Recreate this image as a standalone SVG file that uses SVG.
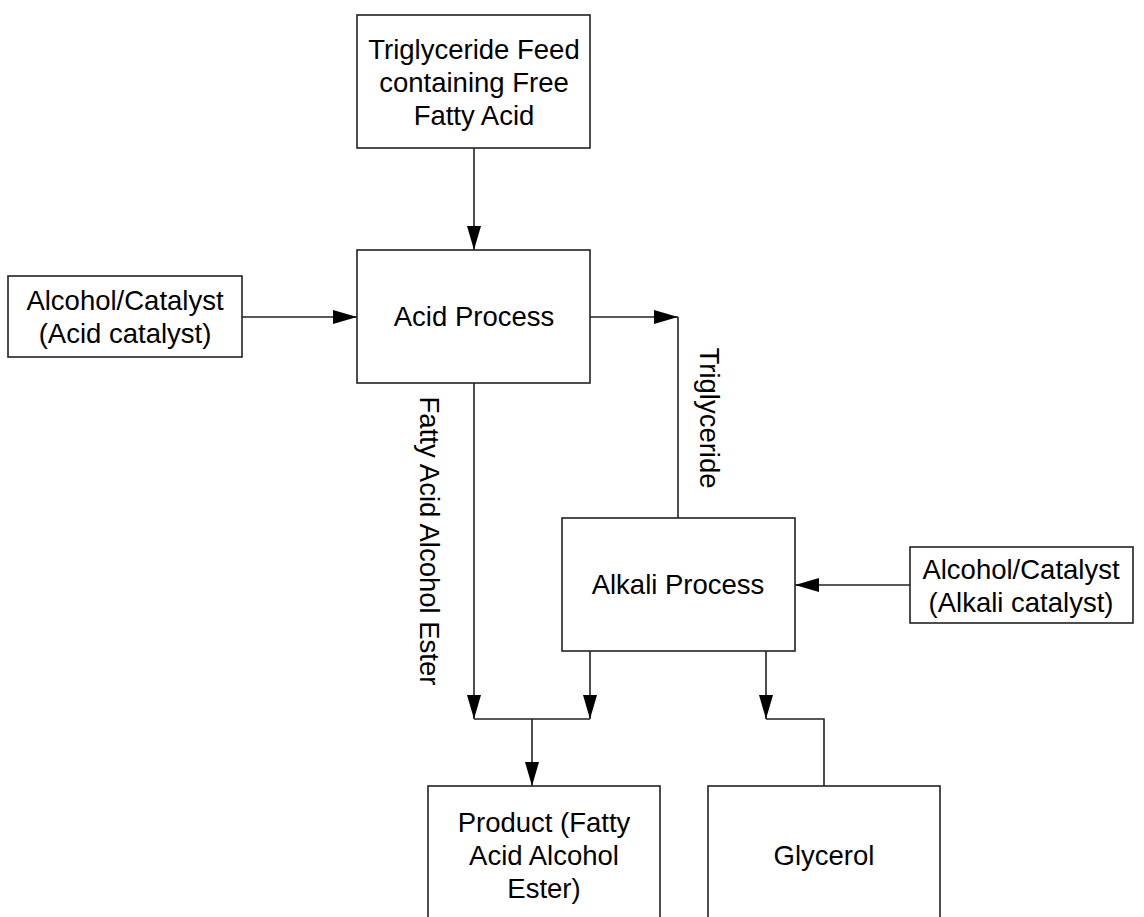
<svg xmlns="http://www.w3.org/2000/svg" width="1144" height="917" viewBox="0 0 1144 917">
<style>
.box{fill:#fff;stroke:#222;stroke-width:1.6}
.ln{fill:none;stroke:#222;stroke-width:1.6}
text{font-family:"Liberation Sans",Arial,sans-serif;font-size:27.5px;fill:#000;text-anchor:middle}
</style>
<defs>
<marker id="arr" viewBox="0 0 24 14" refX="24" refY="7" markerWidth="24" markerHeight="14" markerUnits="userSpaceOnUse" orient="auto">
<path d="M0,0 L24,7 L0,14 Z" fill="#000"/>
</marker>
</defs>
<rect width="1144" height="917" fill="#fff"/>
<g id="connectors">
<path class="ln" d="M474,148 V250" marker-end="url(#arr)"/>
<path class="ln" d="M242,317 H357" marker-end="url(#arr)"/>
<path class="ln" d="M590,317 H678" marker-end="url(#arr)"/>
<path class="ln" d="M678,317 V518"/>
<path class="ln" d="M910,585 H795" marker-end="url(#arr)"/>
<path class="ln" d="M474,383 V719" marker-end="url(#arr)"/>
<path class="ln" d="M590,651 V719" marker-end="url(#arr)"/>
<path class="ln" d="M474,719 H590"/>
<path class="ln" d="M532,719 V786" marker-end="url(#arr)"/>
<path class="ln" d="M766,651 V719" marker-end="url(#arr)"/>
<path class="ln" d="M766,719 H824 V786"/>
<text transform="translate(420,541) rotate(90)">Fatty Acid Alcohol Ester</text>
<text transform="translate(700,418) rotate(90)">Triglyceride</text>
</g>
<g id="feed">
<rect class="box" x="357" y="15" width="233" height="133"/>
<text x="474" y="59">Triglyceride Feed</text>
<text x="474" y="92">containing Free</text>
<text x="474" y="125">Fatty Acid</text>
</g>
<g id="acid-process">
<rect class="box" x="357" y="250" width="233" height="133"/>
<text x="474" y="326">Acid Process</text>
</g>
<g id="acid-catalyst">
<rect class="box" x="8" y="276" width="234" height="81"/>
<text x="125" y="310">Alcohol/Catalyst</text>
<text x="125" y="343">(Acid catalyst)</text>
</g>
<g id="alkali-process">
<rect class="box" x="562" y="518" width="233" height="133"/>
<text x="678" y="594">Alkali Process</text>
</g>
<g id="alkali-catalyst">
<rect class="box" x="910" y="547" width="223" height="76"/>
<text x="1021" y="579">Alcohol/Catalyst</text>
<text x="1021" y="612">(Alkali catalyst)</text>
</g>
<g id="product">
<rect class="box" x="428" y="786" width="232" height="140"/>
<text x="544" y="832">Product (Fatty</text>
<text x="544" y="865">Acid Alcohol</text>
<text x="544" y="898">Ester)</text>
</g>
<g id="glycerol">
<rect class="box" x="708" y="786" width="232" height="140"/>
<text x="824" y="865">Glycerol</text>
</g>
</svg>
